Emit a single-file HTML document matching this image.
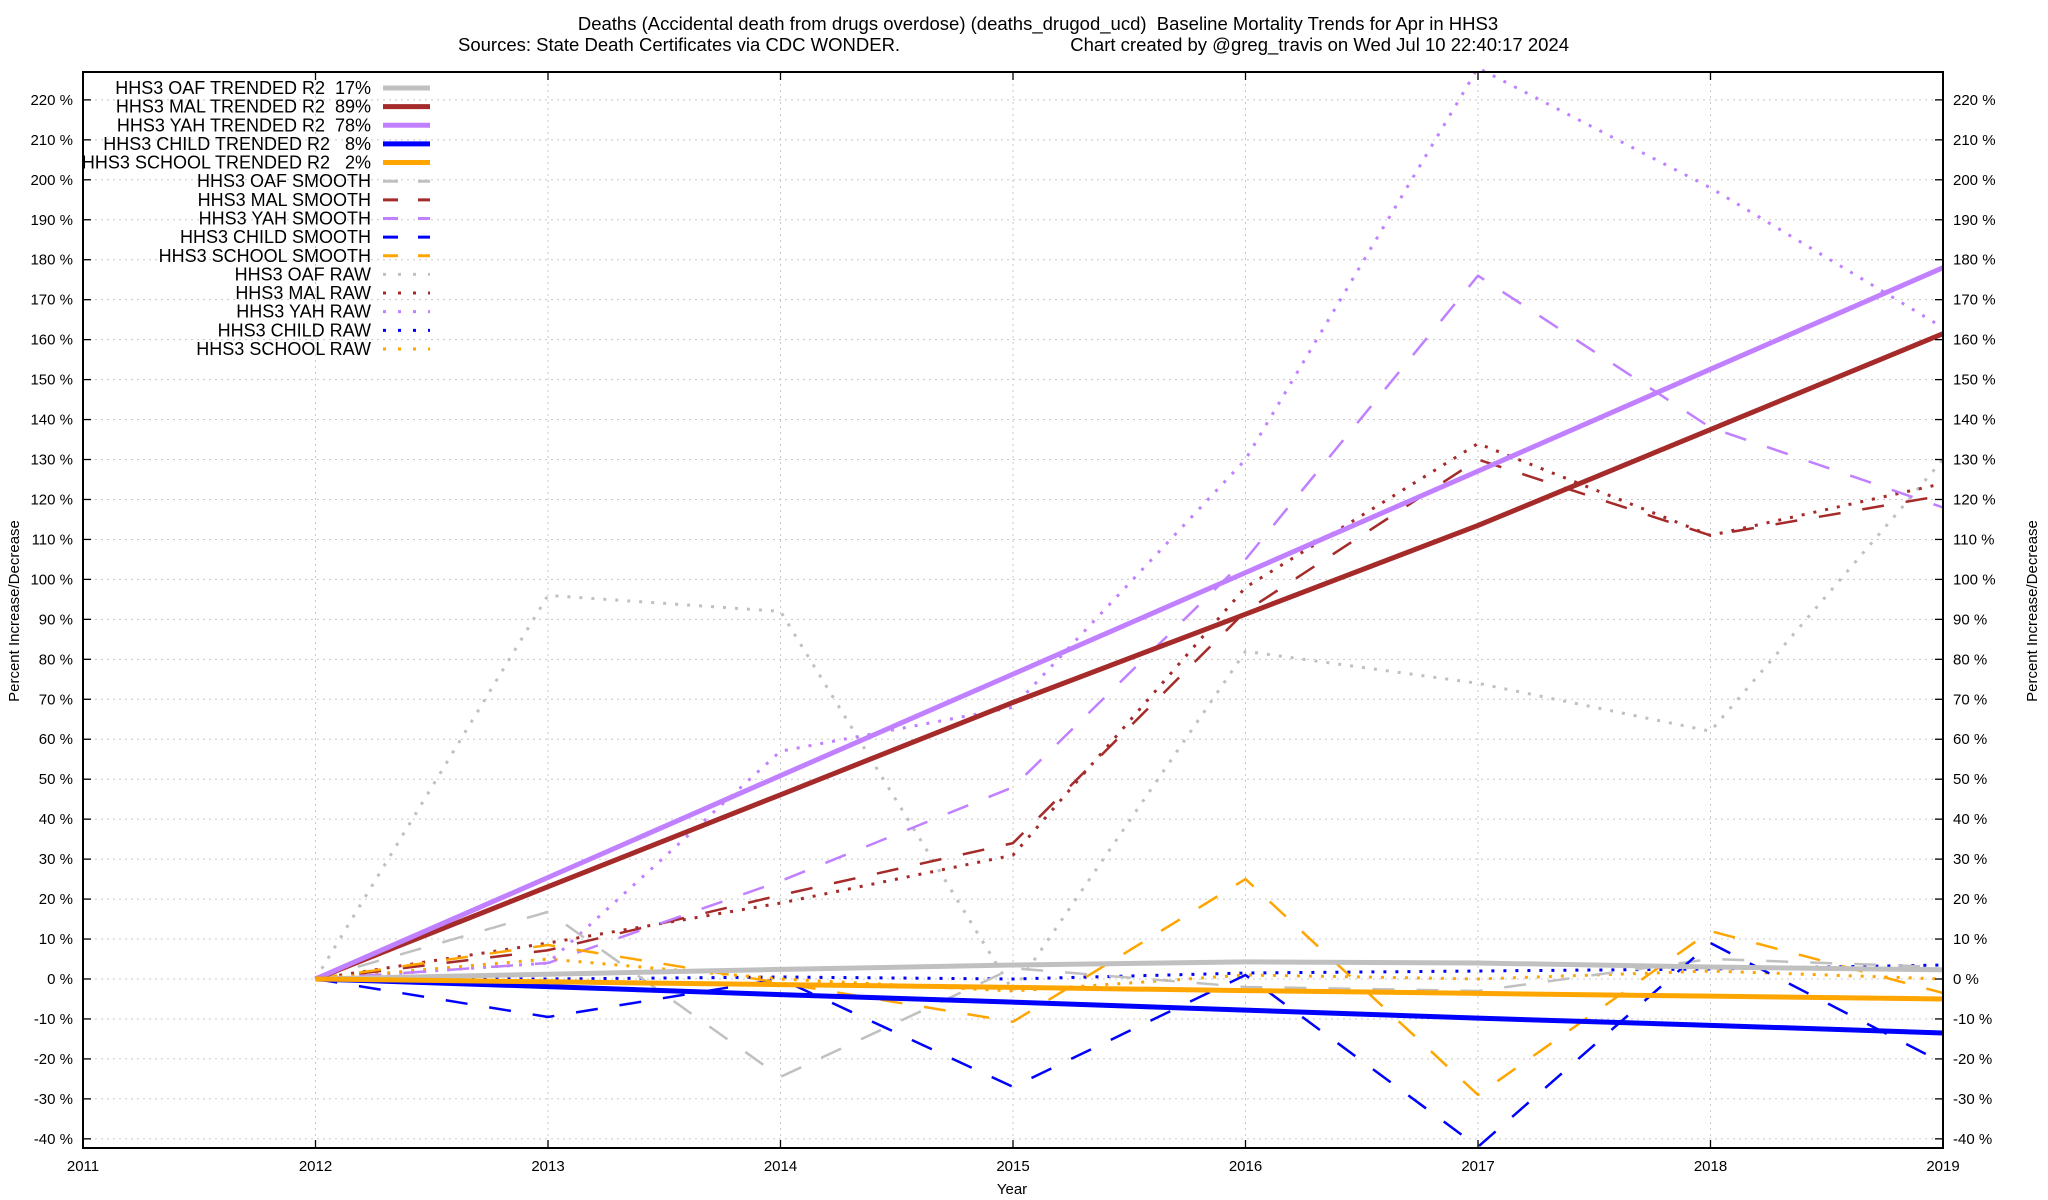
<!DOCTYPE html>
<html><head><meta charset="utf-8"><style>
html,body{margin:0;padding:0;background:#fff;}
svg{display:block;font-family:"Liberation Sans",Arial,sans-serif;}
text{white-space:pre;}
</style></head><body>
<svg id="chart" width="2048" height="1200" viewBox="0 0 2048 1200">
<g id="grid"></g>
<g id="series"></g>
<g id="axes"></g>
<g id="legend"></g>
<text x="1038" y="30" font-size="18.5" text-anchor="middle">Deaths (Accidental death from drugs overdose) (deaths_drugod_ucd)  Baseline Mortality Trends for Apr in HHS3</text>
<text x="458" y="51" font-size="18.5">Sources: State Death Certificates via CDC WONDER.</text>
<text x="1569" y="51" font-size="18.5" text-anchor="end">Chart created by @greg_travis on Wed Jul 10 22:40:17 2024</text>
<text x="1012" y="1194" font-size="15" text-anchor="middle">Year</text>
<text transform="translate(19,611) rotate(-90)" font-size="15" text-anchor="middle">Percent Increase/Decrease</text>
<text transform="translate(2037,611) rotate(-90)" font-size="15" text-anchor="middle">Percent Increase/Decrease</text>
</svg>
<script>
const years = [2012,2013,2014,2015,2016,2017,2018,2019];
const xTicks = [2011,2012,2013,2014,2015,2016,2017,2018,2019];
const yTicks = [-40,-30,-20,-10,0,10,20,30,40,50,60,70,80,90,100,110,120,130,140,150,160,170,180,190,200,210,220];
const oafTrend = [0,1.2,2.4,3.5,4.3,4.0,3.0,2.3];
const malTrend = [0,23.1,46.1,69.2,91.3,113.5,137.5,161.5];
const yahTrend = [0,25.4,50.9,76.3,101.7,127.1,152.6,178];
const childTrend = [0,-1.9,-3.9,-5.8,-7.8,-9.8,-11.6,-13.5];
const schoolTrend = [0,-0.7,-1.4,-2.1,-2.9,-3.6,-4.3,-5.0];
const oafSmooth = [0,16.8,-24.5,2.7,-2,-3,5,3];
const malSmooth = [0,7.2,21,34,92,130,111,121];
const yahSmooth = [0,4,24.5,48,105,176,138,118];
const childSmooth = [0,-9.5,0,-27,1,-42,9,-21];
const schoolSmooth = [0,8.5,-1,-10.7,25,-29,12,-3.5];
const oafRaw = [0,96,92,-3,82,74,62,130];
const malRaw = [0,9,19,31,98,134,111,124];
const yahRaw = [0,4,57,68,130,228,198,163];
const childRaw = [0,0,0.5,0,1.5,2,2.5,3.5];
const schoolRaw = [0,5,0,-3,1,0,2,0];

const X0=83, X1=1943, Y0=72, Y1=1148;
const xs = v => X0 + (v-2011)*(X1-X0)/8;
const ys = v => 979 - v*3.996;
const NS="http://www.w3.org/2000/svg";
function mk(tag, attrs, parent){const e=document.createElementNS(NS,tag);for(const k in attrs)e.setAttribute(k,attrs[k]);parent.appendChild(e);return e;}
const grid=document.getElementById('grid'), axes=document.getElementById('axes'), ser=document.getElementById('series'), leg=document.getElementById('legend');

yTicks.forEach(v=>{
  const y=ys(v);
  let g=mk('line',{x1:X0,x2:X1,y1:y,y2:y,stroke:'#c8c8c8','stroke-width':1,'stroke-dasharray':'2,4'},grid);
  
  
  let t1=mk('line',{x1:X0,x2:X0+8,y1:y,y2:y,stroke:'#000','stroke-width':1.3},axes);
  
  
  let t2=mk('line',{x1:X1-8,x2:X1,y1:y,y2:y,stroke:'#000','stroke-width':1.3},axes);
  
  
  let l=mk('text',{x:X0-10,y:y+5,'font-size':15,'text-anchor':'end'},axes);l.textContent=v+' %';
  
  
  let r=mk('text',{x:X1+10,y:y+5,'font-size':15},axes);r.textContent=v+' %';
  
  
});
xTicks.forEach(v=>{
  const x=xs(v);
  let g=mk('line',{x1:x,x2:x,y1:Y0,y2:Y1,stroke:'#c8c8c8','stroke-width':1,'stroke-dasharray':'2,4'},grid);
  
  
  let t=mk('line',{x1:x,x2:x,y1:Y1-8,y2:Y1,stroke:'#000','stroke-width':1.3},axes);
  
  
  let t2=mk('line',{x1:x,x2:x,y1:Y0,y2:Y0+8,stroke:'#000','stroke-width':1.3},axes);
  
  
  let l=mk('text',{x:x,y:1171,'font-size':15,'text-anchor':'middle'},axes);l.textContent=v;
  
  
});
let frame=mk('rect',{x:X0,y:Y0,width:X1-X0,height:Y1-Y0,fill:'none',stroke:'#000','stroke-width':2},axes);



const GRAY='#c0c0c0', MAL='#a52a2a', YAH='#c080ff', BLUE='#0000ff', ORANGE='#ffa500';
const TREND={w:5,d:null}, SMOOTH={w:2.5,d:'22,22'}, RAW={w:3,d:'3,9'};
const seriesList = [
  ['HHS3 OAF RAW',oafRaw,GRAY,RAW,'oaf-raw-line'],
  ['HHS3 MAL RAW',malRaw,MAL,RAW,'mal-raw-line'],
  ['HHS3 YAH RAW',yahRaw,YAH,RAW,'yah-raw-line'],
  ['HHS3 CHILD RAW',childRaw,BLUE,RAW,'child-raw-line'],
  ['HHS3 SCHOOL RAW',schoolRaw,ORANGE,RAW,'school-raw-line'],
  ['HHS3 OAF SMOOTH',oafSmooth,GRAY,SMOOTH,'oaf-smooth-line'],
  ['HHS3 MAL SMOOTH',malSmooth,MAL,SMOOTH,'mal-smooth-line'],
  ['HHS3 YAH SMOOTH',yahSmooth,YAH,SMOOTH,'yah-smooth-line'],
  ['HHS3 CHILD SMOOTH',childSmooth,BLUE,SMOOTH,'child-smooth-line'],
  ['HHS3 SCHOOL SMOOTH',schoolSmooth,ORANGE,SMOOTH,'school-smooth-line'],
  ['HHS3 OAF TRENDED',oafTrend,GRAY,TREND,'oaf-trend-line'],
  ['HHS3 MAL TRENDED',malTrend,MAL,TREND,'mal-trend-line'],
  ['HHS3 YAH TRENDED',yahTrend,YAH,TREND,'yah-trend-line'],
  ['HHS3 CHILD TRENDED',childTrend,BLUE,TREND,'child-trend-line'],
  ['HHS3 SCHOOL TRENDED',schoolTrend,ORANGE,TREND,'school-trend-line']
];
seriesList.forEach(s=>{
  const pts=s[1].map((v,i)=>xs(years[i])+','+ys(v)).join(' ');
  const a={points:pts,fill:'none',stroke:s[2],'stroke-width':s[3].w,'stroke-linejoin':'round'};
  if(s[3].d)a['stroke-dasharray']=s[3].d;
  const p=mk('polyline',a,ser);
  
  
});

const legendLabels=['HHS3 OAF TRENDED R2  17%','HHS3 MAL TRENDED R2  89%','HHS3 YAH TRENDED R2  78%','HHS3 CHILD TRENDED R2   8%','HHS3 SCHOOL TRENDED R2   2%','HHS3 OAF SMOOTH','HHS3 MAL SMOOTH','HHS3 YAH SMOOTH','HHS3 CHILD SMOOTH','HHS3 SCHOOL SMOOTH','HHS3 OAF RAW','HHS3 MAL RAW','HHS3 YAH RAW','HHS3 CHILD RAW','HHS3 SCHOOL RAW'];
const legendColors=[GRAY,MAL,YAH,BLUE,ORANGE,GRAY,MAL,YAH,BLUE,ORANGE,GRAY,MAL,YAH,BLUE,ORANGE];
legendLabels.forEach((lab,i)=>{
  const y=88+i*18.64;
  const st=i<5?TREND:(i<10?{w:3,d:'15,20'}:{w:3,d:'3,12'});
  const t=mk('text',{x:371,y:y+6,'font-size':18,'text-anchor':'end'},leg);
  t.textContent=lab;
  
  
  const a={x1:383,x2:430,y1:y,y2:y,stroke:legendColors[i],'stroke-width':st.w};
  if(st.d)a['stroke-dasharray']=st.d;
  const ln=mk('line',a,leg);
  
  
});
</script>
</body></html>
